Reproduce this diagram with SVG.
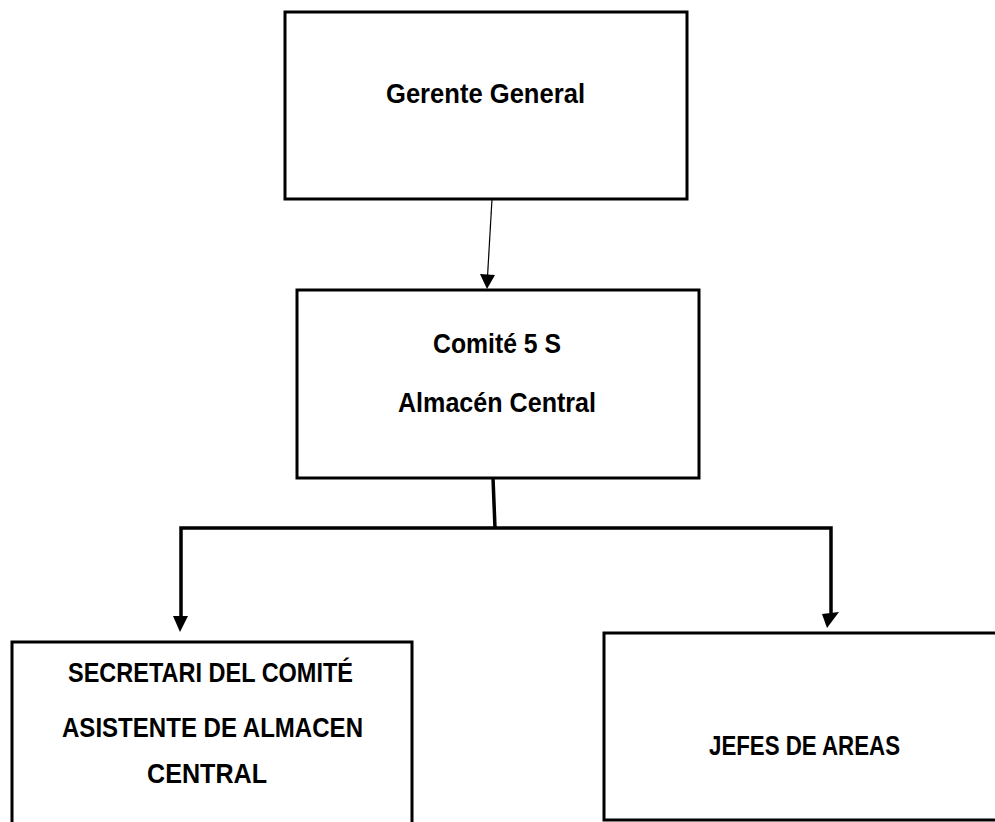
<svg xmlns="http://www.w3.org/2000/svg" width="995" height="822" viewBox="0 0 995 822">
  <style>
    .box { fill: #ffffff; stroke: #000000; stroke-width: 3; }
    .lbl { font-family: "Liberation Sans", Arial, sans-serif; font-weight: bold; font-size: 27px; fill: #000000; }
    .big { font-size: 28px; }
    .thin { fill: none; stroke: #000000; stroke-width: 1.2; }
    .thick { fill: none; stroke: #000000; stroke-width: 3.5; }
    .head { fill: #000000; }
  </style>

  <rect width="995" height="822" fill="#ffffff"/>

  <!-- Connectors -->
  <g id="connectors">
    <line class="thin" x1="492" y1="199" x2="487.6" y2="275"/>
    <polygon class="head" points="480,274 495,275 487,289"/>
    <line class="thick" x1="493" y1="478" x2="495" y2="528"/>
    <polyline class="thick" points="181,617 181,528 831,528 831,613"/>
    <polygon class="head" points="173,616 188,616 180,632"/>
    <polygon class="head" points="822,614 839,612 827,628"/>
  </g>

  <!-- Gerente General -->
  <g id="gerente">
    <rect class="box" x="285" y="12" width="402" height="187"/>
    <text class="lbl" x="386" y="103" textLength="199" lengthAdjust="spacingAndGlyphs">Gerente General</text>
  </g>

  <!-- Comite 5 S -->
  <g id="comite">
    <rect class="box" x="297" y="290" width="402" height="188"/>
    <text class="lbl" x="433" y="353" textLength="128" lengthAdjust="spacingAndGlyphs">Comité 5 S</text>
    <text class="lbl" x="398" y="412" textLength="198" lengthAdjust="spacingAndGlyphs">Almacén Central</text>
  </g>

  <!-- Secretario / asistente -->
  <g id="secretario">
    <path class="box" d="M12,830 L12,642 L412,642 L412,830"/>
    <text class="lbl big" x="68" y="682" textLength="285" lengthAdjust="spacingAndGlyphs">SECRETARI DEL COMITÉ</text>
    <text class="lbl big" x="62" y="737" textLength="301" lengthAdjust="spacingAndGlyphs">ASISTENTE DE ALMACEN</text>
    <text class="lbl big" x="147" y="783" textLength="120" lengthAdjust="spacingAndGlyphs">CENTRAL</text>
  </g>

  <!-- Jefes de areas -->
  <g id="jefes">
    <path class="box" d="M1000,633 L604,633 L604,820 L1000,820"/>
    <text class="lbl" x="709" y="755" textLength="191" lengthAdjust="spacingAndGlyphs">JEFES DE AREAS</text>
  </g>
</svg>
